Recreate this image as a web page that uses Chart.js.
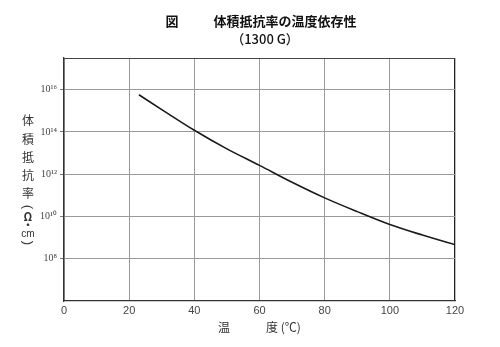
<!DOCTYPE html>
<html>
<head>
<meta charset="utf-8">
<script src="https://cdn.jsdelivr.net/npm/chart.js@4.4.1/dist/chart.umd.min.js"></script>
<style>
html,body{margin:0;padding:0;background:#fff;}
#wrap{width:500px;height:347px;position:relative;}
</style>
</head>
<body>
<div id="wrap"><canvas id="c" width="500" height="347"></canvas></div>
<script>
// Temperature (°C)
const temperatures = [23, 30, 40, 50, 60, 70, 80, 90, 100, 110, 120];
// Volume resistivity, as log10(Ω·cm)
const logResistivity = [15.76, 15.06, 14.08, 13.20, 12.42, 11.62, 10.88, 10.23, 9.62, 9.12, 8.66];
// Y tick exponents
const yTickExponents = [8, 10, 12, 14, 16];
const supDigits = {'0':'⁰','1':'¹','2':'²','3':'³','4':'⁴','5':'⁵','6':'⁶','7':'⁷','8':'⁸','9':'⁹'};
const titleLine1Left = '図';
const titleLine1 = '体積抵抗率の温度依存性';
const titleLine2 = '（1300 G）';
const yTitleChars = ['体','積','抵','抗','率','(','Ω','・','cm',')'];
const xTitle = '温　　　度 (℃)';

const Y_MIN = 6, Y_MAX = 17.5;
const CJK = '"Noto Sans CJK JP", sans-serif';

const textPlugin = {
  id: 'texts',
  afterDraw(chart) {
    const ctx = chart.ctx;
    ctx.save();
    ctx.fillStyle = '#111';
    ctx.textBaseline = 'middle';
    ctx.textAlign = 'center';
    ctx.font = 'bold 13px ' + CJK;
    ctx.fillText(titleLine1Left, 172, 21);
    ctx.fillText(titleLine1, 285, 21);
    ctx.font = '500 13px ' + CJK;
    ctx.fillText(titleLine2, 265, 39);
    // vertical y title
    ctx.fillStyle = '#333';
    const ys = [120, 139, 157, 175, 193, 207, 217, 225, 234, 243];
    yTitleChars.forEach((ch, i) => {
      if (ch === '(' || ch === ')') {
        ctx.save();
        ctx.translate(28, ys[i]);
        ctx.rotate(Math.PI / 2);
        ctx.font = '13px "Liberation Sans", sans-serif';
        ctx.fillText(ch, 0, 0);
        ctx.restore();
        return;
      }
      ctx.font = (ch === 'cm' ? '10px "Liberation Sans Narrow", "Liberation Sans", sans-serif' : (ch === 'Ω' ? 'bold 11px ' + CJK : '12px ' + CJK));
      ctx.fillText(ch, 28, ys[i]);
    });
    ctx.restore();
  }
};

new Chart(document.getElementById('c'), {
  type: 'line',
  data: {
    datasets: [{
      data: temperatures.map((t, i) => ({x: t, y: logResistivity[i]})),
      borderColor: '#1a1a1a',
      borderWidth: 1.6,
      pointRadius: 0,
      cubicInterpolationMode: 'monotone',
      fill: false
    }]
  },
  options: {
    responsive: false,
    animation: false,
    devicePixelRatio: 1,
    layout: {padding: {top: 58, right: 45, bottom: 8, left: 0}},
    plugins: {legend: {display: false}, tooltip: {enabled: false}, title: {display: false}},
    scales: {
      x: {
        type: 'linear',
        min: 0, max: 120,
        ticks: {stepSize: 20, color: '#444', padding: 3, font: {family: '"Liberation Sans Narrow", "Liberation Sans", sans-serif', size: 11}},
        grid: {
          drawTicks: false,
          color: (c) => (c.tick && c.tick.value === 120) ? '#222' : '#9a9a9a',
          lineWidth: (c) => (c.tick && c.tick.value === 120) ? 1.3 : 1
        },
        border: {color: '#333', width: 1.3},
        title: {display: true, text: xTitle, color: '#333', padding: {top: 0, bottom: 4}, font: {family: CJK, size: 12, lineHeight: 1.2}},
        afterFit: (s) => { s.height = 38; }
      },
      y: {
        type: 'linear',
        min: Y_MIN, max: Y_MAX,
        afterBuildTicks: (s) => { s.ticks = yTickExponents.concat([Y_MAX]).map(v => ({value: v})); },
        ticks: {
          color: '#444', padding: 3,
          font: {family: '"Liberation Serif", serif', size: 10},
          callback: (v) => v === Y_MAX ? '' : '10' + String(v).split('').map(d => supDigits[d]).join('')
        },
        grid: {
          tickLength: 4,
          color: (c) => (c.tick && c.tick.value === Y_MAX) ? '#444' : '#9a9a9a',
          tickColor: (c) => (c.tick && c.tick.value === Y_MAX) ? 'rgba(0,0,0,0)' : '#777'
        },
        border: {color: '#333', width: 1.3},
        afterFit: (s) => { s.width = 64; }
      }
    }
  },
  plugins: [textPlugin]
});
</script>
</body>
</html>
